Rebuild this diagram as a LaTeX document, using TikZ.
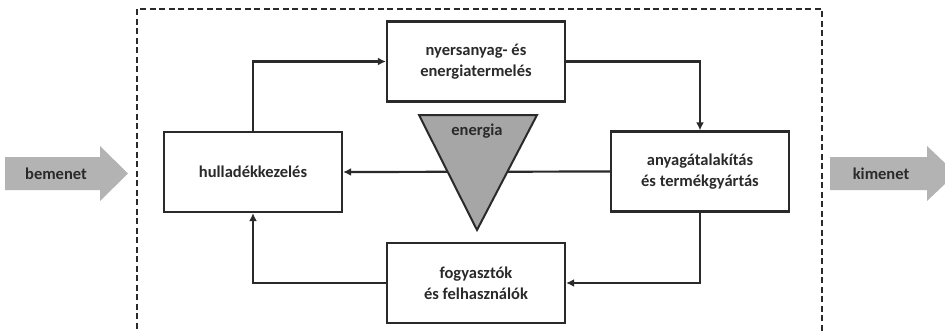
\documentclass[tikz,border=0pt]{standalone}
\usepackage{fontspec}
\setmainfont{Carlito}
\usetikzlibrary{arrows.meta}
\definecolor{ink}{HTML}{2A2A2A}
\definecolor{shade}{HTML}{B3B3B3}
\definecolor{trishade}{HTML}{A6A6A6}
\tikzset{
  stage/.style={draw=ink, line width=2.3pt, fill=white, minimum width=178pt,
    minimum height=80pt, inner sep=0pt, align=center, text=ink,
    font=\bfseries\fontsize{16.5}{21}\selectfont},
  flow/.style={draw=ink, line width=2.2pt, -{Latex[length=8pt,width=8pt]}},
  lbl/.style={text=ink, font=\bfseries\fontsize{16.5}{21}\selectfont, inner sep=0pt},
  io/.style={fill=shade, draw=none},
  frame/.style={draw=ink, line width=2.2pt, dash pattern=on 6pt off 3.5pt}
}
\begin{document}
\begin{tikzpicture}[x=1pt, y=-1pt]
  \useasboundingbox (0,0) rectangle (945,330);
  \clip (0,0) rectangle (945,330);
  % system boundary
  \draw[frame] (137,9) rectangle (822,345);
  % input and output arrows
  \fill[io] (5,157) -- (100,157) -- (100,146) -- (128,173.5) -- (100,201) -- (100,190) -- (5,190) -- cycle;
  \node[lbl] (bemenet) at (56,174) {bemenet};
  \fill[io] (830,157) -- (927,157) -- (927,146) -- (956,173.5) -- (927,201) -- (927,190) -- (830,190) -- cycle;
  \node[lbl] (kimenet) at (881,174) {kimenet};
  % process stages
  \node[stage] (raw) at (476,61.5) {nyersanyag- és\\energiatermelés};
  \node[stage] (make) at (700,171.5) {anyagátalakítás\\és termékgyártás};
  \node[stage] (use) at (476,283) {fogyasztók\\és felhasználók};
  \node[stage] (waste) at (253,172) {hulladékkezelés};
  % cycle
  \draw[flow] (waste.north) |- (raw.west);
  \draw[flow] (raw.east) -| (make.north);
  \draw[flow] (make.west) -- (waste.east);
  \draw[flow] (make.south) |- (use.east);
  \draw[flow] (use.west) -| (waste.south);
  % energy wedge
  \draw[draw=ink, line width=2pt, fill=trishade, line join=miter] (419,115) -- (537,115) -- (477,230) -- cycle;
  \node[lbl] (energia) at (477,131) {energia};
\end{tikzpicture}
\end{document}
